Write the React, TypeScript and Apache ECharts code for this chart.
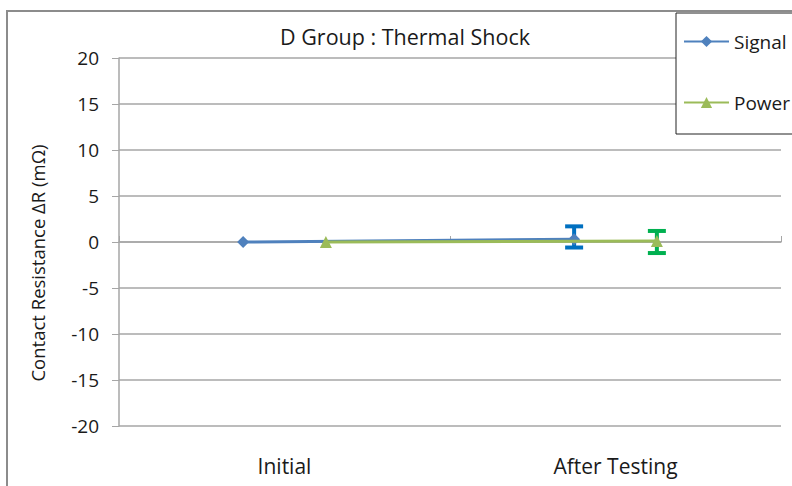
import React, { useEffect, useRef } from "react";
import * as echarts from "echarts";

const categories = ["Initial", "After Testing"];
const seriesNames = ["Signal", "Power"];
const signalValues = [0, 0.3];
const powerValues = [0, 0.1];
const signalErrLow = [null, -0.6];
const signalErrHigh = [null, 1.7];
const powerErrLow = [null, -1.2];
const powerErrHigh = [null, 1.2];
const yTicks = { min: -20, max: 20, interval: 5 };
const titleText = "D Group : Thermal Shock";
const yName = "Contact Resistance ΔR (mΩ)";

const FONT = "Open Sans";
const OFFSET = 0.125;

function errData(low: (number | null)[], high: (number | null)[], off: number) {
  const out: number[][] = [];
  low.forEach((l, i) => {
    const h = high[i];
    if (l !== null && h !== null) out.push([i + off, l, h]);
  });
  return out;
}

function errSeries(data: number[][], color: string) {
  return {
    type: "custom",
    xAxisIndex: 0,
    yAxisIndex: 0,
    z: 1,
    silent: true,
    encode: { x: 0, y: [1, 2] },
    data,
    renderItem: (_p: any, api: any) => {
      const x = api.value(0);
      const top = api.coord([x, api.value(2)]);
      const bot = api.coord([x, api.value(1)]);
      const hw = 9;
      const st = { stroke: color, lineWidth: 4 };
      return {
        type: "group",
        children: [
          { type: "line", shape: { x1: top[0], y1: top[1], x2: bot[0], y2: bot[1] }, style: st },
          { type: "line", shape: { x1: top[0] - hw, y1: top[1], x2: top[0] + hw, y2: top[1] }, style: st },
          { type: "line", shape: { x1: bot[0] - hw, y1: bot[1], x2: bot[0] + hw, y2: bot[1] }, style: st },
        ],
      };
    },
  };
}

export default function App() {
  const ref = useRef<HTMLDivElement>(null);
  useEffect(() => {
    if (!ref.current) return;
    const chart = echarts.init(ref.current, undefined, { renderer: "svg" });
    const gray = "#a6a6a6";
    const txt = "#1a1a1a";
    chart.setOption({
      animation: false,
      backgroundColor: "#fff",
      textStyle: { fontFamily: FONT },
      title: {
        text: titleText,
        left: 400,
        textAlign: "center",
        top: 20,
        textStyle: { fontFamily: FONT, fontSize: 21.5, fontWeight: "normal", color: txt },
      },
      grid: { left: 119, right: 11, top: 58, bottom: 60 },
      legend: {
        data: seriesNames,
        orient: "vertical",
        left: 678,
        top: 27,
        itemWidth: 45,
        itemHeight: 14,
        itemGap: 42,
        z: 5,
        textStyle: { fontFamily: FONT, fontSize: 19, color: txt },
      },
      graphic: [
        {
          type: "rect",
          z: 0,
          silent: true,
          shape: { x: 7, y: 11, width: 900, height: 700 },
          style: { fill: "none", stroke: "#8c8c8c", lineWidth: 2 },
        },
        {
          type: "rect",
          z: 4,
          silent: true,
          shape: { x: 676, y: 13, width: 200, height: 121 },
          style: { fill: "#fff", stroke: "#222", lineWidth: 1 },
        },
      ],
      xAxis: [
        { type: "value", min: -0.5, max: 1.5, show: false, axisLine: { onZero: false } },
        {
          type: "category",
          data: categories,
          position: "bottom",
          boundaryGap: true,
          axisLine: { show: true, onZero: true, lineStyle: { color: gray, width: 1.5 } },
          axisTick: { show: true, inside: true, length: 6, lineStyle: { color: gray } },
          axisLabel: { show: false },
          splitLine: { show: false },
        },
        {
          type: "category",
          data: categories,
          position: "bottom",
          boundaryGap: true,
          axisLine: { show: false, onZero: false },
          axisTick: { show: false },
          axisLabel: { show: true, margin: 29, fontFamily: FONT, fontSize: 21, color: txt },
          splitLine: { show: false },
        },
      ],
      yAxis: {
        type: "value",
        min: yTicks.min,
        max: yTicks.max,
        interval: yTicks.interval,
        name: yName,
        nameLocation: "middle",
        nameGap: 72,
        nameTextStyle: { fontFamily: FONT, fontSize: 18.5, color: txt, padding: [0, 42, 0, 0] },
        axisLine: { show: true, onZero: false, lineStyle: { color: gray, width: 1.5 } },
        axisTick: { show: true, length: 7, lineStyle: { color: gray } },
        axisLabel: { margin: 20, fontFamily: FONT, fontSize: 19, color: txt },
        splitLine: { show: true, lineStyle: { color: gray, width: 1.5 } },
      },
      series: [
        errSeries(errData(signalErrLow, signalErrHigh, -OFFSET), "#0070C0"),
        errSeries(errData(powerErrLow, powerErrHigh, OFFSET), "#00B050"),
        {
          name: "Signal",
          type: "line",
          xAxisIndex: 0,
          z: 2,
          data: signalValues.map((v, i) => [i - OFFSET, v]),
          symbol: "diamond",
          symbolSize: 12,
          lineStyle: { color: "#4F81BD", width: 3 },
          itemStyle: { color: "#4F81BD" },
        },
        {
          name: "Power",
          type: "line",
          xAxisIndex: 0,
          z: 3,
          data: powerValues.map((v, i) => [i + OFFSET, v]),
          symbol: "triangle",
          symbolSize: 12,
          lineStyle: { color: "#9BBB59", width: 3 },
          itemStyle: { color: "#9BBB59" },
        },
      ],
    });
    return () => chart.dispose();
  }, []);
  return (
    <div
      ref={ref}
      style={{ position: "fixed", left: 0, top: 0, width: 792, height: 486 }}
    />
  );
}
